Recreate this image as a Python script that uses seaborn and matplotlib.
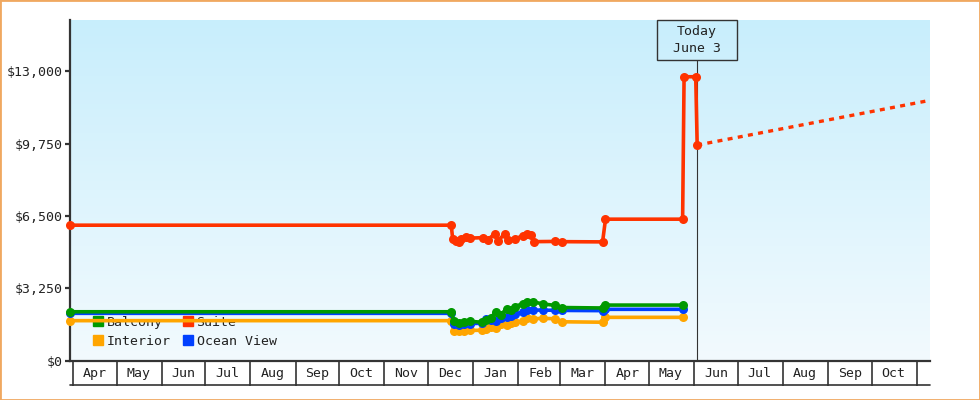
import pandas as pd
import matplotlib
matplotlib.use("Agg")
import matplotlib.pyplot as plt
import matplotlib.dates as mdates
import matplotlib.ticker as mticker
import matplotlib.transforms as mtransforms
from matplotlib.patches import Rectangle
from matplotlib.lines import Line2D
from matplotlib.colors import LinearSegmentedColormap
import numpy as np
import seaborn as sns

sns.set_style("ticks")
plt.rcParams['font.family'] = ['DejaVu Sans Mono', 'DejaVu Sans']

# price history for balcony / interior / ocean view (same sampling dates)
cabin_dates = ['2023-03-30', '2023-12-17', '2023-12-19', '2023-12-22', '2023-12-26',
               '2023-12-30', '2024-01-07', '2024-01-10', '2024-01-13', '2024-01-17',
               '2024-01-20', '2024-01-24', '2024-01-27', '2024-01-30', '2024-02-04',
               '2024-02-07', '2024-02-11', '2024-02-18', '2024-02-26', '2024-03-02',
               '2024-03-30', '2024-04-01', '2024-05-24']
balcony = [2190, 2190, 1760, 1700, 1740, 1760, 1720, 1800, 1920, 2200, 2050, 2330,
           2250, 2420, 2560, 2640, 2640, 2540, 2480, 2380, 2360, 2490, 2490]
interior = [1790, 1790, 1340, 1320, 1330, 1350, 1360, 1420, 1500, 1460, 1620, 1600,
            1680, 1720, 1770, 1900, 1880, 1890, 1880, 1740, 1720, 1940, 1940]
ocean_view = [2120, 2120, 1640, 1600, 1620, 1650, 1680, 1880, 1820, 1760, 1900, 1960,
              2010, 2080, 2180, 2260, 2270, 2260, 2260, 2250, 2240, 2300, 2300]

suite_dates = ['2023-03-30', '2023-12-17', '2023-12-18', '2023-12-20', '2023-12-22',
               '2023-12-24', '2023-12-27', '2023-12-30', '2024-01-08', '2024-01-11',
               '2024-01-16', '2024-01-18', '2024-01-23', '2024-01-25', '2024-01-30',
               '2024-02-04', '2024-02-07', '2024-02-10', '2024-02-12', '2024-02-26',
               '2024-03-02', '2024-03-30', '2024-04-01', '2024-05-24', '2024-05-25',
               '2024-06-02', '2024-06-03']
suite = [6080, 6080, 5450, 5380, 5330, 5480, 5550, 5500, 5520, 5420, 5700, 5380,
         5700, 5420, 5470, 5600, 5680, 5660, 5340, 5350, 5340, 5330, 6350, 6350,
         12750, 12750, 9680]

projection_dates = ['2024-06-03', '2024-11-10']
projection = [9680, 11690]

today = '2024-06-03'
today_label = 'Today\nJune 3'
x_range = ['2023-03-30', '2024-11-10']
y_ticks = [0, 3250, 6500, 9750, 13000]

colors = {
    'Balcony': '#009900',
    'Interior': '#FFA500',
    'Ocean View': '#0040FF',
    'Suite': '#FF3300',
}

frames = []
for name, vals, dts in [('Interior', interior, cabin_dates),
                        ('Ocean View', ocean_view, cabin_dates),
                        ('Balcony', balcony, cabin_dates),
                        ('Suite', suite, suite_dates)]:
    frames.append(pd.DataFrame({'date': pd.to_datetime(dts), 'price': vals, 'cabin': name}))
df = pd.concat(frames, ignore_index=True)

fig = plt.figure(figsize=(9.8, 4), dpi=100)
ax = fig.add_axes([70 / 980, 39.5 / 400, 860 / 980, 340.5 / 400])

x0, x1 = pd.to_datetime(x_range)
ax.set_xlim(x0, x1)
ax.set_ylim(0, 15300)

# gradient background
grad_cmap = LinearSegmentedColormap.from_list('bg', ['#F2FAFE', '#C8EEFC'])
grad = np.linspace(0, 1, 256).reshape(-1, 1)
ax.imshow(grad, cmap=grad_cmap, origin='lower', aspect='auto', zorder=0,
          extent=[mdates.date2num(x0), mdates.date2num(x1), 0, 15300])
ax.set_xlim(x0, x1)
ax.set_ylim(0, 15300)

sns.lineplot(data=df, x='date', y='price', hue='cabin', palette=colors,
             hue_order=['Interior', 'Ocean View', 'Balcony', 'Suite'],
             marker='o', markersize=6.5, markeredgewidth=0, linewidth=2.6,
             legend=False, ax=ax, zorder=3, clip_on=False)
sns.lineplot(x=pd.to_datetime(projection_dates), y=projection, color=colors['Suite'],
             linewidth=2.4, linestyle=(0, (1.5, 1.6)), ax=ax, zorder=3)

# today marker
today_ts = pd.Timestamp(today)
today_num = mdates.date2num(today_ts)
box_bottom = 0.8825
ax.axvline(today_ts, ymin=0, ymax=box_bottom, color='#333333', lw=0.8, zorder=2)
trans = mtransforms.blended_transform_factory(ax.transData, ax.transAxes)
ax.add_patch(Rectangle((today_num - 27.3, box_bottom), 54.6, 1 - box_bottom,
                       transform=trans, fill=False, ec='#333333', lw=1, clip_on=False, zorder=4))
ax.text(today_num, (1 + box_bottom) / 2, today_label, transform=trans, ha='center',
        va='center', fontsize=9.5, color='#222222', linespacing=1.35, zorder=4)

# axes styling
sns.despine(ax=ax, top=True, right=True)
for side in ['left', 'bottom']:
    ax.spines[side].set_color('#333333')
    ax.spines[side].set_linewidth(1.6)

ax.set_yticks(y_ticks)
ax.yaxis.set_major_formatter(mticker.FuncFormatter(lambda v, p: f"${v:,.0f}"))
ax.tick_params(axis='y', length=3.5, width=1.6, color='#333333', pad=1.5,
               labelsize=9.5, labelcolor='#222222')

ax.xaxis.set_major_locator(mdates.MonthLocator())
ax.xaxis.set_major_formatter(mticker.NullFormatter())
ax.xaxis.set_minor_locator(mdates.MonthLocator(bymonthday=16))
ax.xaxis.set_minor_formatter(mdates.DateFormatter('%b'))
ax.tick_params(axis='x', which='major', length=18, width=1.2, color='#333333', direction='out')
ax.tick_params(axis='x', which='minor', length=0, pad=4.5, labelsize=9.5, labelcolor='#222222')
ax.plot([0, 1], [-24.5 / 340.5] * 2, transform=ax.transAxes, clip_on=False,
        color='#333333', lw=1.2)
ax.set_xlabel('')
ax.set_ylabel('')

handles = [Line2D([], [], marker='s', ls='none', color=colors[n], markersize=7.5)
           for n in ['Balcony', 'Interior', 'Suite', 'Ocean View']]
leg = ax.legend(handles, ['Balcony', 'Interior', 'Suite', 'Ocean View'], ncol=2,
                loc='lower left', bbox_to_anchor=(0.019, 0.017), frameon=False,
                borderpad=0, handlelength=0.8, handletextpad=0.25, columnspacing=0.9,
                labelspacing=0.5, fontsize=9.5)
for t in leg.get_texts():
    t.set_color('#222222')
leg.set_zorder(1)

fig.patches.append(Rectangle((0, 0), 1, 1, transform=fig.transFigure, fill=False,
                             ec='#F0A860', lw=2))

fig.savefig('out.png', dpi=100)
